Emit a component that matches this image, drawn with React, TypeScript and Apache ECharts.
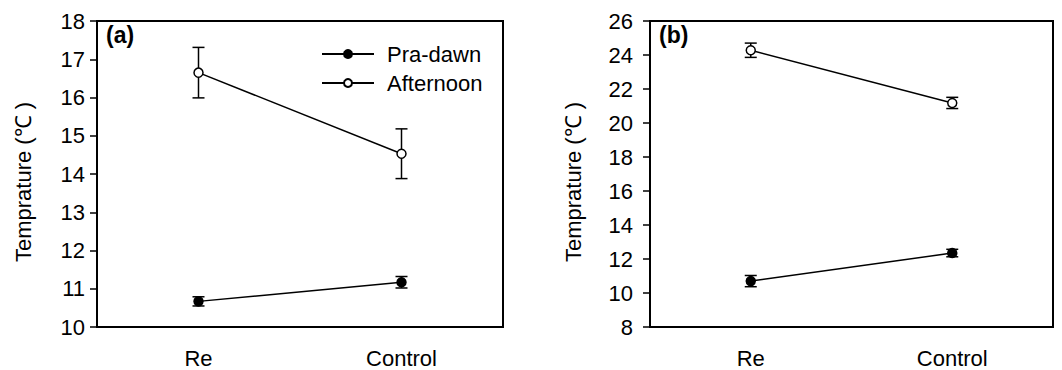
import React, { useEffect, useRef } from "react";
import * as echarts from "echarts";

const categories = ["Re", "Control"];
const seriesNames = ["Pra-dawn", "Afternoon"];

const praDawnA = [10.67, 11.17];
const praDawnErrA = [0.12, 0.15];
const afternoonA = [16.65, 14.53];
const afternoonErrA = [0.66, 0.65];

const praDawnB = [10.7, 12.35];
const praDawnErrB = [0.33, 0.22];
const afternoonB = [24.28, 21.18];
const afternoonErrB = [0.42, 0.33];

const FONT = "Liberation Sans, Arial, sans-serif";

function errData(vals: number[], errs: number[]) {
  return vals.map((v, i) => [i, v - errs[i], v + errs[i]]);
}

const renderErr = (params: any, api: any) => {
  const x = api.value(0);
  const lo = api.coord([x, api.value(1)]);
  const hi = api.coord([x, api.value(2)]);
  const w = 6;
  const style = { stroke: "#000", lineWidth: 1.5 };
  return {
    type: "group",
    children: [
      { type: "line", shape: { x1: lo[0], y1: lo[1], x2: hi[0], y2: hi[1] }, style },
      { type: "line", shape: { x1: lo[0] - w, y1: lo[1], x2: lo[0] + w, y2: lo[1] }, style },
      { type: "line", shape: { x1: hi[0] - w, y1: hi[1], x2: hi[0] + w, y2: hi[1] }, style },
    ],
  };
};

export default function App() {
  const ref = useRef<HTMLDivElement>(null);
  useEffect(() => {
    if (!ref.current) return;
    const chart = echarts.init(ref.current, null, { renderer: "svg" });
    const axisText = { color: "#000", fontSize: 22, fontFamily: FONT };
    const xAxisBase = (gridIndex: number) => ({
      type: "category",
      gridIndex,
      data: categories,
      boundaryGap: true,
      axisLine: { lineStyle: { color: "#000", width: 2 } },
      axisTick: { alignWithLabel: true, length: 7, lineStyle: { color: "#000", width: 1.5 } },
      axisLabel: { ...axisText, margin: 20 },
      splitLine: { show: false },
    });
    const yAxisBase = (gridIndex: number, min: number, max: number, interval: number, labelMargin: number, nameGap: number) => ({
      type: "value",
      gridIndex,
      min,
      max,
      interval,
      name: "Temprature (℃ )",
      nameLocation: "middle",
      nameGap,
      nameTextStyle: { color: "#000", fontSize: 22, fontFamily: FONT, padding: [0, 16, 0, 0] },
      axisLine: { show: true, lineStyle: { color: "#000", width: 2 } },
      axisTick: { show: true, length: 7, lineStyle: { color: "#000", width: 1.5 } },
      axisLabel: { ...axisText, margin: labelMargin },
      splitLine: { show: false },
    });
    const lineSeries = (name: string, data: number[], idx: number, filled: boolean) => ({
      type: "line",
      name,
      data,
      xAxisIndex: idx,
      yAxisIndex: idx,
      symbol: "circle",
      symbolSize: 9,
      z: 5,
      lineStyle: { color: "#000", width: 1.5 },
      itemStyle: { color: filled ? "#000" : "#fff", borderColor: "#000", borderWidth: 1.5 },
    });
    const errSeries = (data: number[][], idx: number) => ({
      type: "custom",
      xAxisIndex: idx,
      yAxisIndex: idx,
      data,
      renderItem: renderErr,
      z: 2,
      silent: true,
    });
    const titleStyle = { fontSize: 23, fontWeight: "bold", color: "#000", fontFamily: FONT };
    chart.setOption({
      animation: false,
      textStyle: { fontFamily: FONT },
      title: [
        { text: "(a)", left: 106, top: 23, padding: 0, textStyle: titleStyle },
        { text: "(b)", left: 659, top: 23, padding: 0, textStyle: titleStyle },
      ],
      legend: {
        data: seriesNames,
        orient: "vertical",
        left: 321,
        top: 43,
        padding: 0,
        itemWidth: 52,
        itemHeight: 10,
        itemGap: 7,
        textStyle: { color: "#000", fontSize: 22, fontFamily: FONT, padding: [0, 0, 0, 8] },
        selectedMode: false,
      },
      grid: [
        { left: 97, top: 21, width: 406, height: 306, show: true, borderColor: "#000", borderWidth: 2, backgroundColor: "transparent" },
        { left: 650, top: 21, width: 403, height: 306, show: true, borderColor: "#000", borderWidth: 2, backgroundColor: "transparent" },
      ],
      xAxis: [xAxisBase(0), xAxisBase(1)],
      yAxis: [yAxisBase(0, 10, 18, 1, 12, 63), yAxisBase(1, 8, 26, 2, 17, 66)],
      series: [
        errSeries(errData(praDawnA, praDawnErrA), 0),
        errSeries(errData(afternoonA, afternoonErrA), 0),
        errSeries(errData(praDawnB, praDawnErrB), 1),
        errSeries(errData(afternoonB, afternoonErrB), 1),
        lineSeries(seriesNames[0], praDawnA, 0, true),
        lineSeries(seriesNames[1], afternoonA, 0, false),
        lineSeries(seriesNames[0], praDawnB, 1, true),
        lineSeries(seriesNames[1], afternoonB, 1, false),
      ],
    });
    return () => chart.dispose();
  }, []);
  return (
    <div
      ref={ref}
      style={{ position: "fixed", left: 0, top: 0, width: 1062, height: 370, background: "#fff" }}
    />
  );
}
